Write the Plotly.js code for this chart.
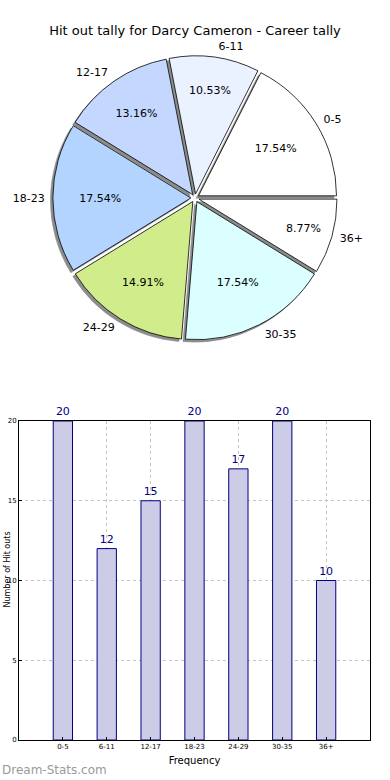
<!DOCTYPE html>
<html>
<head>
<meta charset="utf-8">
<script src="https://cdn.plot.ly/plotly-3.0.1.min.js"></script>
<style>html,body{margin:0;padding:0;background:#fff;}#chart{width:390px;height:780px;}</style>
</head>
<body>
<div id="chart"></div>
<script>
const categories = ["0-5", "6-11", "12-17", "18-23", "24-29", "30-35", "36+"];
const tally = [20, 12, 15, 20, 17, 20, 10];
const sliceColors = ["#ffffff", "#eaf1ff", "#c4d8ff", "#b3d4ff", "#d0ec8b", "#dbffff", "#ffffff"];
const yTicks = [0, 5, 10, 15, 20];

const W = 390, H = 780;
const cx = 195, cy = 198, R = 138, pull = 0.03;
function dom(cxp, cyp, r) {
  return {x: [(cxp - r) / W, (cxp + r) / W], y: [1 - (cyp + r) / H, 1 - (cyp - r) / H]};
}
const half = R * (1 + pull);
const total = tally.reduce((a, b) => a + b, 0);
const rot = 90 - 360 * tally[0] / total;

const common = {
  type: 'pie', labels: categories, values: tally, sort: false,
  direction: 'counterclockwise', rotation: rot, hoverinfo: 'skip', showlegend: false
};

const shadow = Object.assign({}, common, {
  domain: dom(cx - 2.5, cy + 2.5, half),
  pull: pull,
  marker: {colors: categories.map(() => '#8c8c8c'), line: {color: '#8c8c8c', width: 0.5}},
  textinfo: 'none'
});

const main = Object.assign({}, common, {
  domain: dom(cx, cy, half),
  pull: pull,
  marker: {colors: sliceColors, line: {color: '#000000', width: 0.8}},
  texttemplate: '%{percent:.2%}',
  textposition: 'inside',
  insidetextorientation: 'horizontal',
  textfont: {family: 'DejaVu Sans', size: 11, color: '#000'}
});

const labelsTrace = Object.assign({}, common, {
  domain: dom(cx, cy, 147),
  marker: {colors: categories.map(() => 'rgba(0,0,0,0)'), line: {width: 0}},
  textinfo: 'label',
  textposition: 'outside',
  outsidetextfont: {family: 'DejaVu Sans', size: 11, color: '#000'}
});

const bars = {
  type: 'bar', x: categories, y: tally, xaxis: 'x', yaxis: 'y',
  width: 0.44,
  marker: {color: '#ccccE6', line: {color: '#000080', width: 1}},
  texttemplate: '%{y}', textposition: 'outside', cliponaxis: false,
  textfont: {family: 'DejaVu Sans', size: 11, color: '#000080'},
  hoverinfo: 'skip', showlegend: false
};

const layout = {
  width: W, height: H,
  margin: {l: 0, r: 0, t: 0, b: 0},
  paper_bgcolor: '#fff', plot_bgcolor: '#fff',
  title: {text: 'Hit out tally for Darcy Cameron - Career tally', x: 0.5, xanchor: 'center', y: 1 - 30 / H, yanchor: 'middle',
          font: {family: 'DejaVu Sans', size: 13, color: '#000'}},
  xaxis: {
    domain: [19 / W, 370 / W], range: [-1, 7], type: 'category',
    showline: true, mirror: true, linecolor: '#000', linewidth: 1,
    showgrid: true, gridcolor: '#c4c4c4', griddash: 'dot', gridwidth: 1,
    ticks: 'inside', ticklen: 3, tickcolor: '#000',
    tickfont: {family: 'DejaVu Sans', size: 7, color: '#000'},
    title: {text: 'Frequency', font: {family: 'DejaVu Sans', size: 10, color: '#000'}, standoff: 6},
    zeroline: false, fixedrange: true
  },
  yaxis: {
    domain: [1 - 740 / H, 1 - 421 / H], range: [0, 20],
    tickvals: yTicks,
    showline: true, mirror: true, linecolor: '#000', linewidth: 1,
    showgrid: true, gridcolor: '#c4c4c4', griddash: 'dot', gridwidth: 1,
    ticks: 'inside', ticklen: 3, tickcolor: '#000',
    tickfont: {family: 'DejaVu Sans', size: 7, color: '#000'},
    zeroline: false, fixedrange: true
  },
  annotations: [{
    text: 'Dream-Stats.com', xref: 'paper', yref: 'paper', x: 0, y: 1 - 770 / H,
    xanchor: 'left', yanchor: 'middle', showarrow: false,
    font: {family: 'DejaVu Sans', size: 12, color: '#9a9a9a'}
  }, {
    text: 'Number of Hit outs', xref: 'paper', yref: 'paper', x: 0, y: 1 - 570 / H,
    xanchor: 'left', yanchor: 'middle', textangle: -90, showarrow: false,
    font: {family: 'DejaVu Sans', size: 8, color: '#000'}
  }]
};

Plotly.newPlot('chart', [shadow, main, labelsTrace, bars], layout, {staticPlot: true, displayModeBar: false});
</script>
</body>
</html>
